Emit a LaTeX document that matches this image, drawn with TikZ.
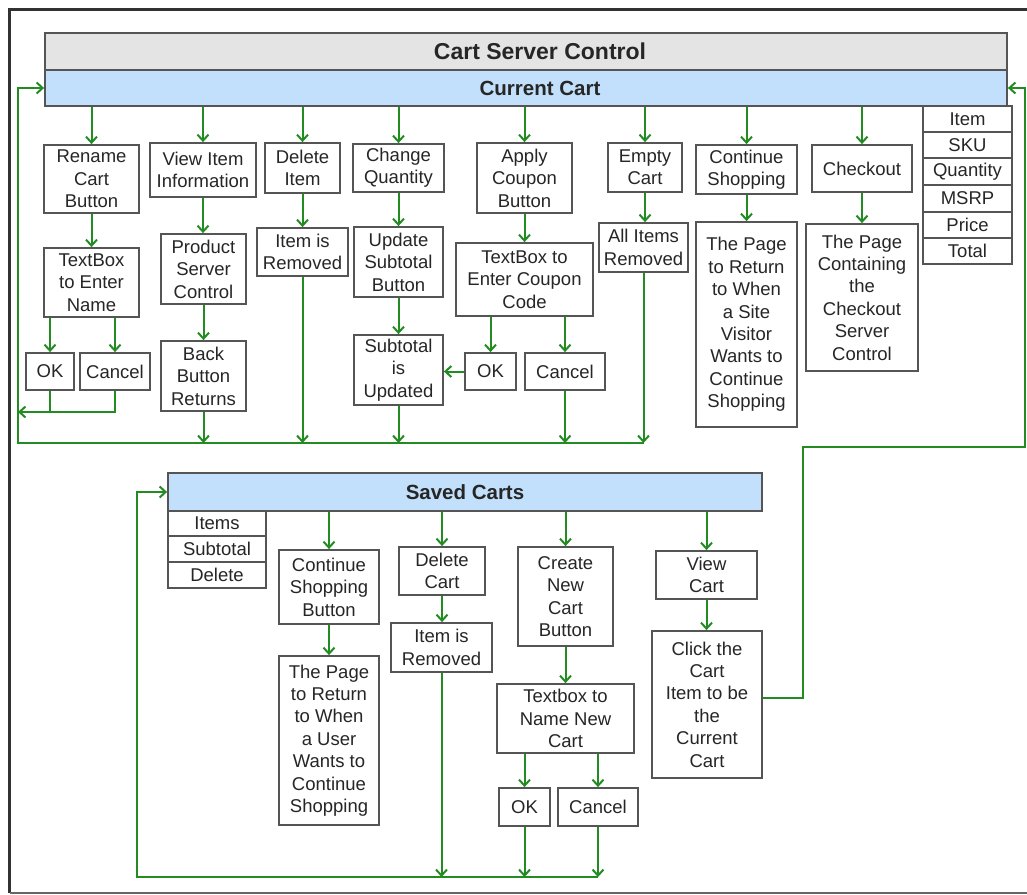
\documentclass[tikz,border=0pt]{standalone}
\usepackage{fontspec}
\setmainfont{Liberation Sans}
\usetikzlibrary{arrows.meta}
\definecolor{gr}{RGB}{34,140,34}
\definecolor{bx}{RGB}{85,85,85}
\definecolor{hdrfill}{RGB}{228,228,228}
\definecolor{blu}{RGB}{194,224,251}
\definecolor{frm}{RGB}{50,50,50}
\newcommand\fs{\fontsize{18.5}{22.4}\selectfont}
\newcommand\fb{\fontsize{20.5}{24}\selectfont\bfseries}
\newcommand\fh{\fontsize{23}{27}\selectfont\bfseries}
\newcommand\mkbox[7][box]{\node[#1, minimum width={#5-#3}, minimum height={#6-#4}] (#2) at ({(#3+#5)/2},{(#4+#6)/2}) {#7};}
\tikzset{
 box/.style={draw=bx, line width=1.8pt, fill=white, align=center, inner sep=0pt, font=\fs, text=black!85},
 bar/.style={box, fill=blu, font=\fb},
 hdr/.style={box, fill=hdrfill, font=\fh},
 ga/.style={draw=gr, line width=2pt, -{Straight Barb[length=6pt,width=11pt,line width=2pt]}},
 gl/.style={draw=gr, line width=2pt},
}
\begin{document}
\begin{tikzpicture}[x=1pt,y=-1pt]
\useasboundingbox (0,0) rectangle (1027,894);
% frame
\draw[frm, line width=3pt] (1027,9.5) -- (9.5,9.5) -- (9.5,893);
\draw[black!60, line width=2pt] (9.5,892.5) -- (1027,892.5);
% header
\mkbox[hdr]{head}{45}{33}{1007}{70}{\hspace*{28pt}Cart Server Control}
\mkbox[bar]{cur}{45}{70}{1007}{106}{\hspace*{28pt}Current Cart}
% row 1
\mkbox{rename}{44}{145}{139}{213}{Rename\\Cart\\Button}
\mkbox{viewitem}{150}{143}{256}{197}{View Item\\Information}
\mkbox{delitem}{265}{143}{340}{193}{Delete\\Item}
\mkbox{changeq}{353}{144}{444}{192}{Change\\Quantity}
\mkbox{apply}{477}{143}{572}{213}{Apply\\Coupon\\Button}
\mkbox{empty}{608}{143}{682}{192}{Empty\\Cart}
\mkbox{contshop}{696}{145}{797}{194}{Continue\\Shopping}
\mkbox{checkout}{812}{145}{912}{192}{Checkout}
% item table
\mkbox{t1}{923}{106}{1012}{132}{Item}
\mkbox{t2}{923}{132}{1012}{158}{SKU}
\mkbox{t3}{923}{158}{1012}{185}{Quantity}
\mkbox{t4}{923}{185}{1012}{212}{MSRP}
\mkbox{t5}{923}{212}{1012}{238}{Price}
\mkbox{t6}{923}{238}{1012}{264}{Total}
% row 2
\mkbox{tbname}{44}{248}{139}{317}{TextBox\\to Enter\\Name}
\mkbox{product}{161}{234}{246}{304}{Product\\Server\\Control}
\mkbox{itemrem}{257}{228}{348}{276}{Item is\\Removed}
\mkbox{updsub}{354}{227}{443}{297}{Update\\Subtotal\\Button}
\mkbox{tbcoupon}{456}{243}{593}{316}{TextBox to\\Enter Coupon\\Code}
\mkbox{allrem}{599}{223}{688}{272}{All Items\\Removed}
\mkbox{pagesite}{696}{222}{797}{427}{The Page\\to Return\\to When\\a Site\\Visitor\\Wants to\\Continue\\Shopping}
\mkbox{pagecheck}{806}{224}{918}{371}{The Page\\Containing\\the\\Checkout\\Server\\Control}
% row 3
\mkbox{ok1}{26}{353}{74}{390}{OK}
\mkbox{cancel1}{80}{353}{150}{390}{Cancel}
\mkbox{back}{161}{341}{246}{411}{Back\\Button\\Returns}
\mkbox{subupd}{354}{335}{443}{405}{Subtotal\\is\\Updated}
\mkbox{ok2}{465}{353}{516}{390}{OK}
\mkbox{cancel2}{525}{353}{605}{390}{Cancel}
% saved carts
\mkbox[bar]{saved}{168}{473}{762}{511}{Saved Carts}
\mkbox{s1}{168}{511}{266}{536}{Items}
\mkbox{s2}{168}{536}{266}{562}{Subtotal}
\mkbox{s3}{168}{562}{266}{588}{Delete}
\mkbox{csb}{279}{550}{379}{624}{Continue\\Shopping\\Button}
\mkbox{pageuser}{279}{656}{379}{825}{The Page\\to Return\\to When\\a User\\Wants to\\Continue\\Shopping}
\mkbox{delcart}{399}{547}{485}{595}{Delete\\Cart}
\mkbox{itemrem2}{391}{623}{492}{672}{Item is\\Removed}
\mkbox{create}{518}{547}{613}{646}{Create\\New\\Cart\\Button}
\mkbox{tbnew}{497}{684}{634}{753}{Textbox to\\Name New\\Cart}
\mkbox{ok3}{499}{788}{550}{826}{OK}
\mkbox{cancel3}{558}{788}{638}{826}{Cancel}
\mkbox{viewcart}{656}{551}{757}{599}{View\\Cart}
\mkbox{click}{652}{631}{762}{778}{Click the\\Cart\\Item to be\\the\\Current\\Cart}
% connectors top
\foreach \n in {rename,viewitem,delitem,changeq,apply,empty,contshop,checkout}
  \draw[ga] (\n.north |- cur.south) -- (\n.north);
\draw[ga] (rename.south) -- (tbname.north);
\draw[ga] (ok1.north |- tbname.south) -- (ok1.north);
\draw[ga] (cancel1.north |- tbname.south) -- (cancel1.north);
\coordinate (L1) at (18,412);
\draw[gl] (ok1.south) -- (ok1.south |- L1);
\draw[ga] (cancel1.south) |- (L1);
\draw[ga] (viewitem.south) -- (viewitem.south |- product.north);
\draw[ga] (product.south) -- (back.north);
\draw[ga] (delitem.south) -- (delitem.south |- itemrem.north);
\draw[ga] (changeq.south) -- (changeq.south |- updsub.north);
\draw[ga] (updsub.south) -- (subupd.north);
\draw[ga] (apply.south) -- (apply.south |- tbcoupon.north);
\draw[ga] (ok2.north |- tbcoupon.south) -- (ok2.north);
\draw[ga] (cancel2.north |- tbcoupon.south) -- (cancel2.north);
\draw[ga] (ok2.west) -- (subupd.east |- ok2.west);
\draw[ga] (empty.south) -- (empty.south |- allrem.north);
\draw[ga] (contshop.south) -- (contshop.south |- pagesite.north);
\draw[ga] (checkout.south) -- (checkout.south |- pagecheck.north);
\coordinate (L2) at (18,443);
\foreach \n in {back,itemrem,subupd,cancel2,allrem}
  \draw[ga] (\n.south) -- (\n.south |- L2);
\draw[ga] (allrem.south |- L2) -- (L2) -- (L2 |- cur.west) -- (cur.west);
% right loop
\coordinate (R1) at (803,447);
\coordinate (R2) at (1025,447);
\draw[ga] ([yshift=6.5pt]click.east) -| (R1) -- (R2) -- (R2 |- cur.east) -- (cur.east);
% connectors bottom
\foreach \n in {csb,delcart,create,viewcart}
  \draw[ga] (\n.north |- saved.south) -- (\n.north);
\draw[ga] (csb.south) -- (pageuser.north);
\draw[ga] (delcart.south) -- (delcart.south |- itemrem2.north);
\draw[ga] (create.south) -- (create.south |- tbnew.north);
\draw[ga] (ok3.north |- tbnew.south) -- (ok3.north);
\draw[ga] (cancel3.north |- tbnew.south) -- (cancel3.north);
\draw[ga] (viewcart.south) -- (viewcart.south |- click.north);
\coordinate (B1) at (137,877);
\foreach \n in {itemrem2,ok3,cancel3}
  \draw[ga] (\n.south) -- (\n.south |- B1);
\draw[ga] (cancel3.south |- B1) -- (B1) -- (B1 |- saved.west) -- (saved.west);
\end{tikzpicture}
\end{document}
